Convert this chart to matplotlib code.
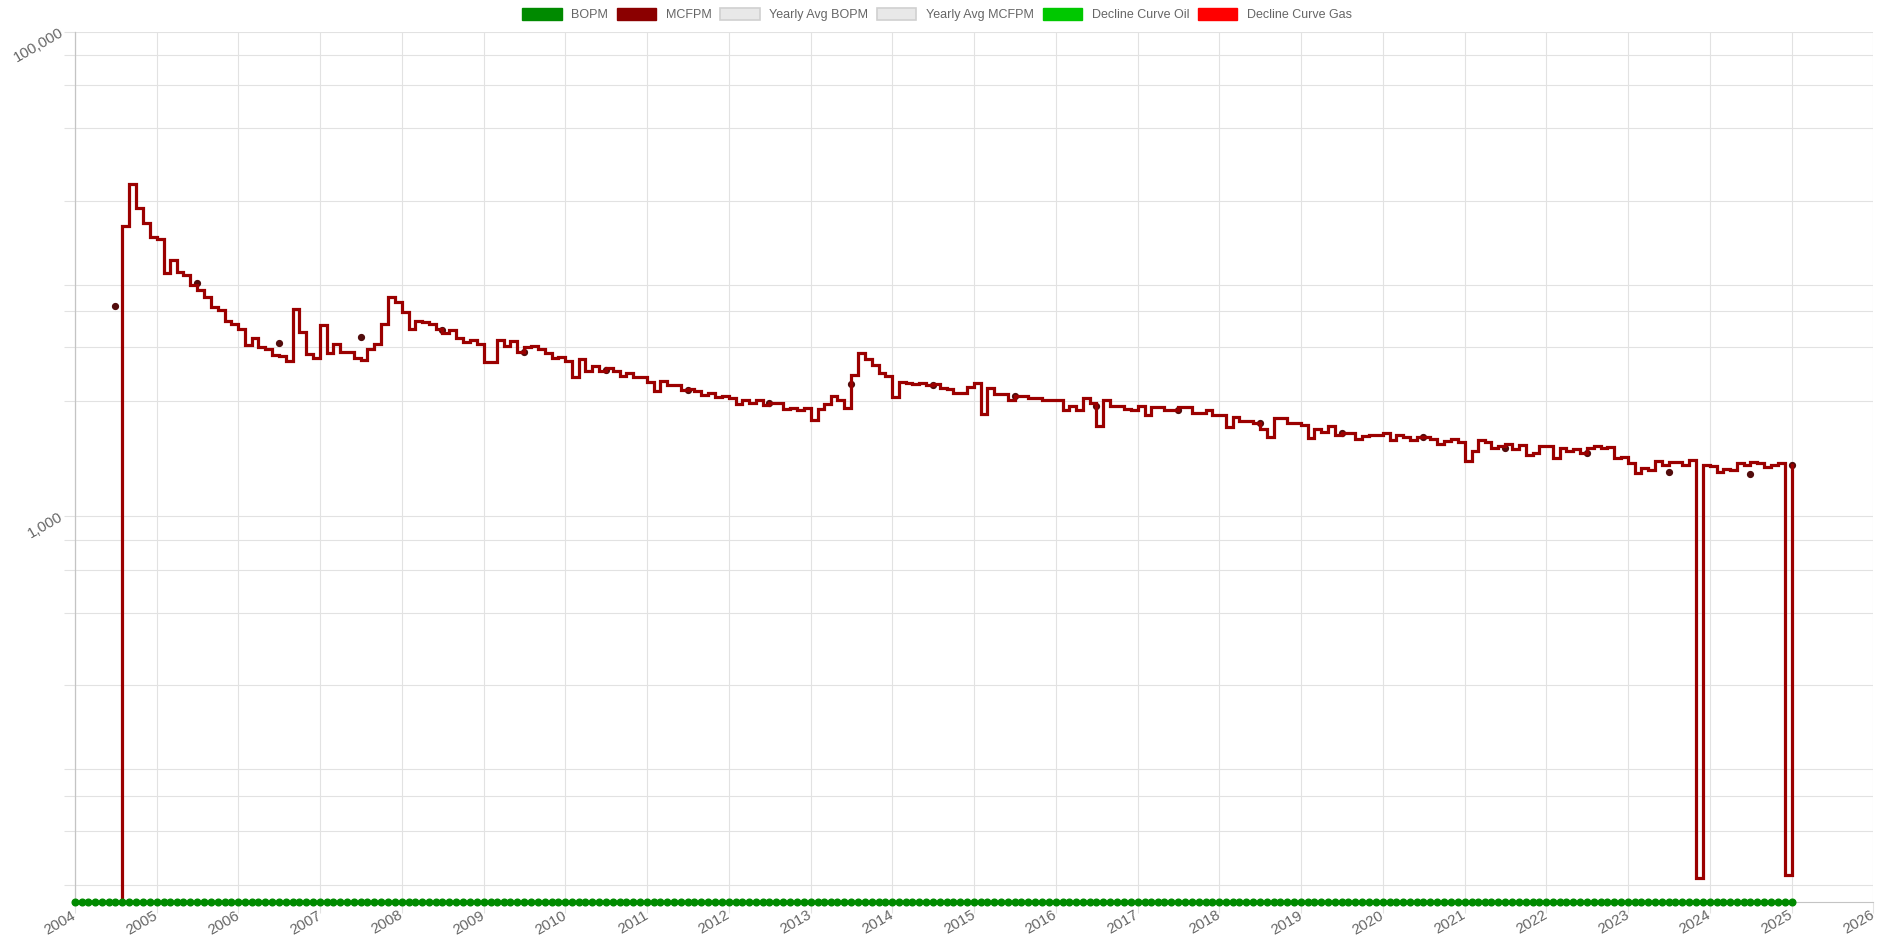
import numpy as np
import matplotlib
matplotlib.use("Agg")
import matplotlib.pyplot as plt
from matplotlib.patches import Patch
from matplotlib.ticker import FixedLocator, FixedFormatter, NullLocator

plt.rcParams['font.family'] = ['Liberation Sans', 'DejaVu Sans']

# ---------------- data (monthly, Jan 2004 .. Jan 2025) ----------------
mcfpm_2004 = [0, 0, 0, 0, 0, 0, 0, 15770, 23430, 18770, 16280, 14250]
mcfpm_2005 = [13980, 10060, 11410, 10180, 9930, 9030, 8580, 8060, 7330, 7100, 6410, 6210]
mcfpm_2006 = [5910, 5090, 5420, 4980, 4910, 4630, 4580, 4390, 7140, 5780, 4670, 4480]
mcfpm_2007 = [6150, 4700, 5120, 4780, 4780, 4480, 4410, 4910, 5120, 6210, 8060, 7630]
mcfpm_2008 = [6940, 5900, 6370, 6340, 6210, 5900, 5690, 5870, 5420, 5250, 5340, 5120]
mcfpm_2009 = [4320, 4320, 5340, 5040, 5300, 4750, 4980, 5040, 4910, 4730, 4480, 4530]
mcfpm_2010 = [4350, 3770, 4440, 3990, 4180, 3990, 4080, 3990, 3790, 3910, 3740, 3770]
mcfpm_2011 = [3590, 3300, 3620, 3480, 3480, 3320, 3340, 3300, 3160, 3230, 3110, 3130]
mcfpm_2012 = [3060, 2900, 3030, 2940, 3020, 2870, 2940, 2920, 2780, 2790, 2740, 2790]
mcfpm_2013 = [2490, 2760, 2900, 3130, 3030, 2790, 3830, 4730, 4440, 4210, 3910, 3790]
mcfpm_2014 = [3110, 3580, 3540, 3510, 3540, 3480, 3510, 3380, 3340, 3230, 3230, 3400]
mcfpm_2015 = [3550, 2640, 3370, 3190, 3190, 3020, 3130, 3130, 3070, 3070, 3020, 3020]
mcfpm_2016 = [3020, 2740, 2850, 2740, 3060, 2920, 2360, 3020, 2850, 2850, 2760, 2740]
mcfpm_2017 = [2850, 2620, 2830, 2830, 2740, 2740, 2810, 2810, 2660, 2660, 2740, 2620]
mcfpm_2018 = [2620, 2340, 2570, 2480, 2480, 2420, 2300, 2130, 2540, 2540, 2430, 2420]
mcfpm_2019 = [2380, 2100, 2300, 2230, 2360, 2160, 2200, 2200, 2080, 2140, 2160, 2160]
mcfpm_2020 = [2210, 2060, 2160, 2120, 2060, 2120, 2130, 2080, 1990, 2050, 2080, 2030]
mcfpm_2021 = [1690, 1850, 2060, 2030, 1910, 1950, 1990, 1890, 1970, 1790, 1830, 1940]
mcfpm_2022 = [1940, 1730, 1910, 1850, 1890, 1830, 1910, 1940, 1910, 1930, 1730, 1760]
mcfpm_2023 = [1660, 1510, 1580, 1550, 1690, 1630, 1670, 1680, 1630, 1700, 32, 1620]
mcfpm_2024 = [1610, 1520, 1570, 1550, 1660, 1620, 1680, 1650, 1600, 1620, 1660, 33]
mcfpm_2025 = [1620]

mcfpm_values = (mcfpm_2004 + mcfpm_2005 + mcfpm_2006 + mcfpm_2007 + mcfpm_2008 +
                mcfpm_2009 + mcfpm_2010 + mcfpm_2011 + mcfpm_2012 + mcfpm_2013 +
                mcfpm_2014 + mcfpm_2015 + mcfpm_2016 + mcfpm_2017 + mcfpm_2018 +
                mcfpm_2019 + mcfpm_2020 + mcfpm_2021 + mcfpm_2022 + mcfpm_2023 +
                mcfpm_2024 + mcfpm_2025)

months = np.arange(np.datetime64('2004-01'), np.datetime64('2025-02'),
                   np.timedelta64(1, 'M')).astype('datetime64[D]')
bopm_values = [0] * len(months)

# yearly average MCFPM points
avg_years = list(range(2004, 2026))
avg_mcfpm = [7360, 9140, 5170, 5510, 5870, 4760, 4010, 3320, 2940, 3510, 3480,
             3130, 2850, 2730, 2430, 2210, 2120, 1910, 1830, 1520, 1490, 1620]
avg_dates = [np.datetime64(f'{y}-07-01') for y in avg_years[:-1]] + [np.datetime64('2025-01-01')]

y_grid = [30, 50, 70, 90, 200, 400, 600, 800, 1000, 3000, 5000, 7000, 9000,
          20000, 40000, 60000, 80000, 100000]
y_labels = {1000: '1,000', 100000: '100,000'}
x_years = list(range(2004, 2027))

legend_labels = ['BOPM', 'MCFPM', 'Yearly Avg BOPM', 'Yearly Avg MCFPM',
                 'Decline Curve Oil', 'Decline Curve Gas']

# ---------------- styling ----------------
Y_MIN = 25.6
C_BOPM = '#008a00'
C_MCF = '#9b0000'
C_AVG = '#520c0c'
GRID = '#e2e2e2'
TXT = '#666666'

fig = plt.figure(figsize=(18.94, 9.42), dpi=100)
ax = fig.add_axes([74.7 / 1894, 1 - 901.7 / 942, (1873.3 - 74.7) / 1894, (901.7 - 31.7) / 942])

mcf = np.array(mcfpm_values, dtype=float)
ax.step(months, np.where(mcf > 0, mcf, Y_MIN), where='post', color=C_MCF,
        lw=2.3, zorder=4, clip_on=False, solid_joinstyle='miter')
ax.plot(avg_dates, avg_mcfpm, 'o', color=C_AVG, ms=4.2, zorder=3)
bop = np.array(bopm_values, dtype=float)
ax.plot(months, np.where(bop > 0, bop, Y_MIN), '-o', color=C_BOPM, lw=2,
        ms=4.8, zorder=6, clip_on=False)

ax.set_yscale('log')
ax.set_ylim(Y_MIN, 1e5)
ax.set_xlim(np.datetime64('2004-01-01'), np.datetime64('2026-01-01'))

ax.yaxis.set_major_locator(FixedLocator(y_grid))
ax.yaxis.set_minor_locator(NullLocator())
ax.yaxis.set_major_formatter(FixedFormatter([y_labels.get(v, '') for v in y_grid]))

xt = [np.datetime64(f'{y}-01-01') for y in x_years]
ax.set_xticks(xt)
ax.set_xticklabels([str(y) for y in x_years])
ax.xaxis.set_minor_locator(NullLocator())

ax.grid(True, color=GRID, lw=0.8, zorder=0)
ax.set_axisbelow(True)
ax.tick_params(axis='both', length=8, width=0.8, color=GRID, labelcolor=TXT,
               labelsize=10.8, pad=1)
for lbl in ax.get_xticklabels():
    lbl.set_rotation(30)
    lbl.set_ha('right')
    lbl.set_va('center')
    lbl.set_rotation_mode('anchor')
for lbl in ax.get_yticklabels():
    lbl.set_rotation(30)
    lbl.set_ha('right')
    lbl.set_va('center')
    lbl.set_rotation_mode('anchor')

for s in ['top', 'right']:
    ax.spines[s].set_visible(False)
ax.spines['left'].set_color('#c4c4c4')
ax.spines['bottom'].set_color('#c4c4c4')
ax.spines['left'].set_linewidth(0.9)

handles = [
    Patch(facecolor=C_BOPM, edgecolor=C_BOPM, lw=1),
    Patch(facecolor='#8b0000', edgecolor='#8b0000', lw=1),
    Patch(facecolor='#e8e8e8', edgecolor='#d0d0d0', lw=1.2),
    Patch(facecolor='#e8e8e8', edgecolor='#d0d0d0', lw=1.2),
    Patch(facecolor='#00c800', edgecolor='#00c800', lw=1),
    Patch(facecolor='#ff0000', edgecolor='#ff0000', lw=1),
]
fig.legend(handles, legend_labels, loc='upper center',
           bbox_to_anchor=(937 / 1894, 1 - 7.5 / 942),
           ncol=6, frameon=False, fontsize=9, labelcolor=TXT,
           handlelength=3.16, handleheight=1.12, handletextpad=0.78,
           columnspacing=0.68, borderpad=0, borderaxespad=0)

fig.savefig('out.png', dpi=100)
